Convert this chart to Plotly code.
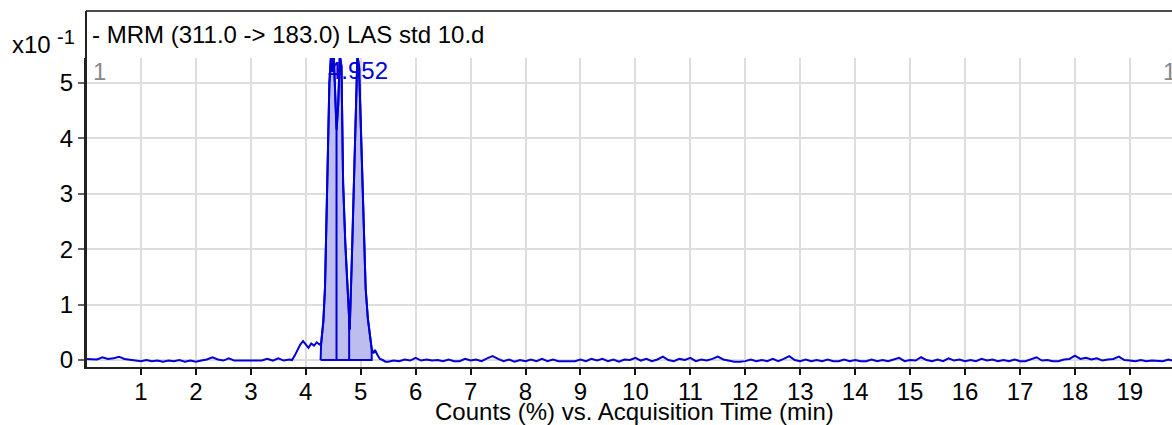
import numpy as np
import plotly.graph_objects as go

# ---- data (values in units of x10^-1 counts) ----
base1_t = [0.0, 0.1, 0.2, 0.3, 0.4, 0.5, 0.6, 0.7, 0.8, 0.9,
           1.0, 1.1, 1.2, 1.3, 1.4, 1.5, 1.6, 1.7, 1.8, 1.9,
           2.0, 2.1, 2.2, 2.3, 2.4, 2.5, 2.6, 2.7, 2.8, 2.9,
           3.0, 3.1, 3.2, 3.3, 3.4, 3.5, 3.6, 3.7]
base1_y = [0.02, 0.02, 0.01, 0.05, 0.02, 0.03, 0.06, 0.02, 0.01, -0.01,
           -0.02, 0.0, -0.02, -0.01, -0.03, -0.01, -0.02, 0.0, -0.03, -0.01,
           -0.03, -0.01, 0.01, 0.05, 0.01, -0.01, 0.03, -0.01, -0.01, -0.01,
           -0.01, 0.0, -0.01, 0.02, -0.01, 0.03, -0.01, 0.01]

peak_t = [3.75, 3.8, 3.85, 3.9, 3.95, 4.0, 4.05, 4.1, 4.15, 4.2,
          4.25, 4.28, 4.32, 4.35, 4.38, 4.41, 4.43, 4.46, 4.49, 4.51,
          4.53, 4.56, 4.59, 4.62, 4.65, 4.68, 4.72, 4.76, 4.8, 4.84,
          4.88, 4.91, 4.94, 4.97, 5.0, 5.03, 5.06, 5.09, 5.13, 5.17,
          5.2, 5.23, 5.26, 5.3, 5.35, 5.4, 5.45]
peak_y = [0.0, 0.08, 0.18, 0.28, 0.34, 0.28, 0.22, 0.3, 0.26, 0.32,
          0.28, 0.3, 0.7, 1.3, 2.65, 3.9, 5.0, 5.5, 5.2, 5.5,
          4.9, 4.15, 4.6, 5.5, 5.3, 3.2, 2.1, 1.3, 0.55, 1.86,
          3.2, 4.4, 5.5, 5.3, 4.3, 3.5, 2.3, 1.3, 0.75, 0.4,
          0.2, 0.12, 0.18, 0.1, 0.02, 0.0, -0.03]

base2_t = [5.5, 5.6, 5.7, 5.8, 5.9, 6.0, 6.1, 6.2, 6.3, 6.4,
           6.5, 6.6, 6.7, 6.8, 6.9, 7.0, 7.1, 7.2, 7.3, 7.4,
           7.5, 7.6, 7.7, 7.8, 7.9, 8.0, 8.1, 8.2, 8.3, 8.4,
           8.5, 8.6, 8.7, 8.8, 8.9, 9.0, 9.1, 9.2, 9.3, 9.4,
           9.5, 9.6, 9.7, 9.8, 9.9, 10.0, 10.1, 10.2, 10.3, 10.4,
           10.5, 10.6, 10.7, 10.8, 10.9, 11.0, 11.1, 11.2, 11.3, 11.4,
           11.5, 11.6, 11.7, 11.8, 11.9, 12.0, 12.1, 12.2, 12.3, 12.4,
           12.5, 12.6, 12.7, 12.8, 12.9, 13.0, 13.1, 13.2, 13.3, 13.4,
           13.5, 13.6, 13.7, 13.8, 13.9, 14.0, 14.1, 14.2, 14.3, 14.4,
           14.5, 14.6, 14.7, 14.8, 14.9, 15.0, 15.1, 15.2, 15.3, 15.4,
           15.5, 15.6, 15.7, 15.8, 15.9, 16.0, 16.1, 16.2, 16.3, 16.4,
           16.5, 16.6, 16.7, 16.8, 16.9, 17.0, 17.1, 17.2, 17.3, 17.4,
           17.5, 17.6, 17.7, 17.8, 17.9, 18.0, 18.1, 18.2, 18.3, 18.4,
           18.5, 18.6, 18.7, 18.8, 18.9, 19.0, 19.1, 19.2, 19.3, 19.4,
           19.5, 19.6, 19.7, 19.8]
base2_y = [-0.03, -0.01, -0.02, 0.01, -0.01, 0.04, -0.01, 0.01, -0.01, 0.0,
           -0.02, 0.01, -0.02, -0.02, 0.02, -0.01, 0.01, -0.02, 0.03, 0.07,
           0.02, -0.02, 0.01, -0.03, 0.0, -0.02, 0.01, -0.02, 0.02, -0.02,
           0.01, -0.02, -0.02, -0.02, -0.02, 0.01, -0.02, 0.02, -0.01, 0.02,
           -0.02, 0.01, -0.03, 0.01, 0.0, 0.04, -0.01, 0.02, -0.02, 0.01,
           0.06, 0.0, -0.02, 0.02, 0.0, 0.04, -0.02, 0.01, -0.01, 0.02,
           0.06, 0.01, -0.01, -0.03, -0.03, -0.02, 0.01, -0.02, 0.0, -0.02,
           0.02, -0.02, 0.02, 0.07, 0.0, -0.02, 0.01, -0.02, 0.0, -0.02,
           0.01, -0.02, -0.02, 0.01, -0.02, 0.0, -0.02, -0.02, 0.01, -0.02,
           0.0, -0.02, 0.01, 0.04, -0.02, 0.0, -0.01, 0.05, 0.0, -0.02,
           0.01, -0.02, 0.03, -0.01, 0.01, -0.02, 0.0, -0.02, 0.02, -0.01,
           0.01, -0.02, 0.0, -0.02, 0.01, -0.02, -0.02, 0.01, 0.05, -0.01,
           0.0, -0.02, -0.02, 0.01, 0.02, 0.08, 0.02, 0.04, 0.01, 0.03,
           -0.01, 0.01, 0.02, 0.06, 0.0, -0.01, -0.02, 0.0, -0.02, -0.01,
           -0.02, -0.02, 0.01, -0.02]

integration_bounds = [4.27, 5.20]
peak_dividers = [4.56, 4.79]
peak_label_rt = 4.952
x_ticks = list(range(1, 20))
y_ticks = [0, 1, 2, 3, 4, 5]
title_text = "- MRM (311.0 -&gt; 183.0) LAS std 10.d"
x_title = "Counts (%) vs. Acquisition Time (min)"

# ---- build ----
t_all = np.array(base1_t + peak_t + base2_t)
y_all = np.array(base1_y + peak_y + base2_y)

BLUE = "rgb(0,0,215)"
FONT = "Liberation Sans, Arial, sans-serif"
FS = 24

s, e = integration_bounds
inner = (t_all > s) & (t_all < e)
fx = [s, s] + list(t_all[inner]) + [e, e, s]
fy = [0, float(np.interp(s, t_all, y_all))] + list(y_all[inner]) + \
     [float(np.interp(e, t_all, y_all)), 0, 0]

fig = go.Figure()
fig.add_trace(go.Scatter(x=fx, y=fy, mode="lines", fill="toself",
                         fillcolor="rgb(190,190,238)",
                         line=dict(color=BLUE, width=2),
                         hoverinfo="skip", showlegend=False))
fig.add_trace(go.Scatter(x=t_all, y=y_all, mode="lines",
                         line=dict(color=BLUE, width=2),
                         showlegend=False))

for d in peak_dividers:
    fig.add_shape(type="line", xref="x", yref="y", x0=d, x1=d, y0=0,
                  y1=float(np.interp(d, t_all, y_all)),
                  line=dict(color=BLUE, width=2))

# plot area: px 86..1172 horizontally, px 58..367 vertically
PH = 309.0
def py(p):
    return (367 - p) / PH
def px(q):
    return (q - 86) / 1086.0

# frame extension above the grid (title box)
fig.add_shape(type="line", xref="paper", yref="paper", x0=0, x1=1,
              y0=py(11), y1=py(11), line=dict(color="#111", width=1.5))
fig.add_shape(type="line", xref="paper", yref="paper", x0=0, x1=0,
              y0=py(367), y1=py(11), line=dict(color="#222", width=2))

ann = [
    dict(text=title_text, x=px(90), y=py(34), xanchor="left", yanchor="middle",
         font=dict(size=FS, color="black")),
    dict(text="x10", x=(10 - 86) / 1086.0, y=py(44), xanchor="left", yanchor="middle",
         font=dict(size=FS, color="black")),
    dict(text="-1", x=(55 - 86) / 1086.0, y=py(37), xanchor="left", yanchor="middle",
         font=dict(size=20, color="black")),
    dict(text="1", x=px(91), y=py(71), xanchor="left", yanchor="middle",
         font=dict(size=FS, color="#888")),
    dict(text="1", x=px(1161), y=py(71), xanchor="left", yanchor="middle",
         font=dict(size=FS, color="#888")),
    dict(text=x_title, x=px(634), y=py(411), xanchor="center", yanchor="middle",
         font=dict(size=FS, color="black")),
]
for a in ann:
    fig.add_annotation(xref="paper", yref="paper", showarrow=False, **a)

fig.add_annotation(xref="x", yref="y", x=peak_label_rt, y=5.23, text=f"{peak_label_rt:.3f}",
                   showarrow=False, xanchor="center", yanchor="middle",
                   font=dict(size=FS, color=BLUE))

fig.update_layout(
    width=1172, height=425,
    margin=dict(l=86, r=0, t=58, b=58, pad=0, autoexpand=False),
    paper_bgcolor="white", plot_bgcolor="white",
    font=dict(family=FONT, size=FS, color="black"),
    showlegend=False,
)
fig.update_xaxes(range=[0, 19.767], tickvals=x_ticks, ticktext=[str(v) for v in x_ticks],
                 ticks="outside", ticklen=6, tickcolor="#111", tickwidth=1.5,
                 ticklabelstandoff=-4,
                 showline=True, linecolor="#222", linewidth=2,
                 showgrid=True, gridcolor="#dddddd", gridwidth=1.5, zeroline=False,
                 tickfont=dict(size=FS, family=FONT), automargin=False)
fig.update_yaxes(range=[-0.126, 5.451], tickvals=y_ticks,
                 ticks="outside", ticklen=6, tickcolor="#666", tickwidth=1.5,
                 showline=True, linecolor="#222", linewidth=2,
                 showgrid=True, gridcolor="#dddddd", gridwidth=1.5, zeroline=False,
                 tickfont=dict(size=FS, family=FONT), automargin=False)

fig.write_html("out.html")
